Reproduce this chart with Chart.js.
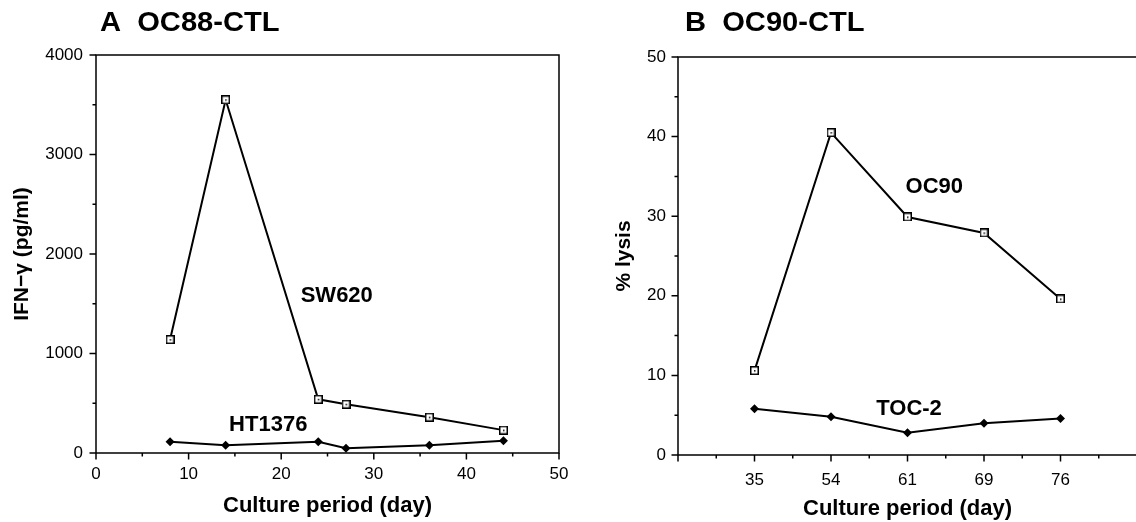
<!DOCTYPE html>
<html>
<head>
<meta charset="utf-8">
<script src="https://cdn.jsdelivr.net/npm/chart.js@4.4.1/dist/chart.umd.min.js"></script>
<style>
  html, body { margin: 0; padding: 0; background: #fff; overflow: hidden; }
  body { width: 1136px; height: 522px; position: relative; }
  #wrapA { position: absolute; left: 0; top: 0; width: 568px; height: 522px; }
  #wrapB { position: absolute; left: 568px; top: 0; width: 580px; height: 522px; }
</style>
</head>
<body>
<div id="wrapA"><canvas id="chartA"></canvas></div>
<div id="wrapB"><canvas id="chartB"></canvas></div>
<script>
// A - IFN-gamma released by OC88-CTL
const daysA = [8, 14, 24, 27, 36, 44]
const ifnSW620 = [1140, 3550, 540, 490, 360, 230]
const ifnHT1376 = [113, 77, 113, 47, 77, 123]
const tickLabelsAx = [0, 10, 20, 30, 40, 50]
const tickLabelsAy = [0, 1000, 2000, 3000, 4000]

// B - lysis by OC90-CTL
const daysB = ['35', '54', '61', '69', '76']
const lysisOC90 = [10.6, 40.5, 29.9, 27.9, 19.6]
const lysisTOC2 = [5.8, 4.8, 2.8, 4.0, 4.6]
const tickLabelsBy = [0, 10, 20, 30, 40, 50]

const FONT = "'Liberation Sans', Arial, Helvetica, sans-serif"
Chart.defaults.font.family = FONT
Chart.defaults.color = '#000'

// open square with a dot in the middle
function squareDot() {
  const c = document.createElement('canvas')
  c.width = 9
  c.height = 9
  const g = c.getContext('2d')
  g.fillStyle = '#fff'
  g.fillRect(0, 0, 9, 9)
  g.fillStyle = '#000'
  g.fillRect(0, 0, 9, 1.5)
  g.fillRect(0, 7.5, 9, 1.5)
  g.fillRect(0, 0, 1.5, 9)
  g.fillRect(7.5, 0, 1.5, 9)
  g.fillRect(4, 4, 1.5, 1.5)
  return c
}
const sq = squareDot()

// frame, tick marks, panel title and curve labels
const panelPlugin = {
  id: 'panel',
  afterDraw(chart, args, opts) {
    const ctx = chart.ctx
    const a = chart.chartArea
    const xs = chart.scales.x
    const ys = chart.scales.y
    ctx.save()
    ctx.strokeStyle = '#000'
    ctx.lineWidth = 1.5
    ctx.beginPath()
    ctx.moveTo(a.left, a.bottom)
    ctx.lineTo(a.left, a.top)
    ctx.lineTo(a.right, a.top)
    if (opts.openRight) ctx.moveTo(a.right, a.bottom)
    else ctx.lineTo(a.right, a.bottom)
    ctx.lineTo(a.left, a.bottom)
    ctx.stroke()

    const major = 6.5, minor = 3.5
    ctx.beginPath()
    xs.ticks.forEach((t, i) => {
      const px = xs.getPixelForValue(t.value)
      const isMajor = opts.categoryX || String(t.label).trim() !== ''
      const len = isMajor ? major : minor
      ctx.moveTo(px, a.bottom)
      ctx.lineTo(px, a.bottom + len)
      if (opts.categoryX && i < xs.ticks.length - 1) {
        const mid = (px + xs.getPixelForValue(xs.ticks[i + 1].value)) / 2
        ctx.moveTo(mid, a.bottom)
        ctx.lineTo(mid, a.bottom + minor)
      }
    })
    ys.ticks.forEach(t => {
      const py = ys.getPixelForValue(t.value)
      const len = String(t.label).trim() !== '' ? major : minor
      ctx.moveTo(a.left, py)
      ctx.lineTo(a.left - len, py)
    })
    ctx.stroke()

    ctx.fillStyle = '#000'
    ctx.textBaseline = 'middle'
    ctx.textAlign = 'left'
    ctx.font = 'bold 28px ' + FONT
    ctx.save()
    ctx.translate(a.left + opts.titleDx, 23)
    ctx.scale(1.04, 1)
    ctx.fillText(opts.title, 0, 0)
    ctx.restore()

    ctx.textAlign = 'center'
    ctx.font = 'bold 22px ' + FONT
    opts.labels.forEach(l => {
      ctx.fillText(l.text, xs.getPixelForValue(l.x), ys.getPixelForValue(l.y))
    })
    ctx.restore()
  }
}

function lineSet(label, data, style, radius) {
  return {
    label: label,
    data: data,
    borderColor: '#000',
    borderWidth: 2,
    backgroundColor: '#000',
    pointStyle: style,
    pointRadius: radius,
    pointBorderWidth: 0,
    pointBackgroundColor: '#000',
    tension: 0
  }
}

// fixed axis boxes so the plot areas land where the reference has them
function fixX(h) {
  return s => { s.height = h; s.paddingLeft = 0; s.paddingRight = 0 }
}
function fixY(w) {
  return s => { s.width = w; s.paddingTop = 0; s.paddingBottom = 0 }
}

const common = {
  responsive: true,
  maintainAspectRatio: false,
  animation: false,
  events: []
}

new Chart(document.getElementById('chartA'), {
  type: 'line',
  data: {
    datasets: [
      lineSet('HT1376', daysA.map((d, i) => ({x: d, y: ifnHT1376[i]})), 'rectRot', 4.5),
      lineSet('SW620', daysA.map((d, i) => ({x: d, y: ifnSW620[i]})), sq, 4.5)
    ]
  },
  options: {
    ...common,
    layout: { padding: { top: 55, left: 0, right: 9, bottom: 0 } },
    plugins: {
      legend: { display: false },
      tooltip: { enabled: false },
      panel: {
        title: 'A  OC88-CTL',
        titleDx: 4,
        labels: [
          { text: 'SW620', x: 26.0, y: 1580 },
          { text: 'HT1376', x: 18.6, y: 284 }
        ]
      }
    },
    scales: {
      x: {
        type: 'linear',
        min: 0,
        max: 50,
        afterFit: fixX(69),
        grid: { drawOnChartArea: false, drawTicks: false },
        border: { display: false },
        ticks: {
          stepSize: 5,
          autoSkip: false,
          maxRotation: 0,
          padding: 11,
          font: { size: 17 },
          callback: v => tickLabelsAx.includes(v) ? String(v) : ''
        },
        title: {
          display: true,
          text: 'Culture period (day)',
          font: { size: 22, weight: 'bold' },
          padding: { top: 0, bottom: 3 }
        }
      },
      y: {
        min: 0,
        max: 4000,
        afterFit: fixY(96),
        grid: { drawOnChartArea: false, drawTicks: false },
        border: { display: false },
        ticks: {
          stepSize: 500,
          autoSkip: false,
          padding: 13,
          font: { size: 17 },
          callback: v => tickLabelsAy.includes(v) ? String(v) : ''
        },
        title: {
          display: true,
          text: 'IFN\u2212\u03b3 (pg/ml)',
          font: { size: 21, weight: 'bold' },
          padding: { top: 10, bottom: 0 }
        }
      }
    }
  },
  plugins: [panelPlugin]
})

new Chart(document.getElementById('chartB'), {
  type: 'line',
  data: {
    labels: [' ', ...daysB, '  '],
    datasets: [
      lineSet('TOC-2', daysB.map((d, i) => ({x: d, y: lysisTOC2[i]})), 'rectRot', 4.5),
      lineSet('OC90', daysB.map((d, i) => ({x: d, y: lysisOC90[i]})), sq, 4.5)
    ]
  },
  options: {
    ...common,
    layout: { padding: { top: 57, left: 0, right: 11, bottom: 0 } },
    plugins: {
      legend: { display: false },
      tooltip: { enabled: false },
      panel: {
        title: 'B  OC90-CTL',
        titleDx: 7,
        categoryX: true,
        openRight: true,
        labels: [
          { text: 'OC90', x: 3.35, y: 33.7 },
          { text: 'TOC-2', x: 3.02, y: 5.8 }
        ]
      }
    },
    scales: {
      x: {
        type: 'category',
        offset: false,
        afterFit: fixX(67),
        grid: { drawOnChartArea: false, drawTicks: false, offset: false },
        border: { display: false },
        ticks: {
          autoSkip: false,
          maxRotation: 0,
          padding: 15,
          font: { size: 17 }
        },
        title: {
          display: true,
          text: 'Culture period (day)',
          font: { size: 22, weight: 'bold' },
          padding: { top: 0, bottom: 0 }
        }
      },
      y: {
        min: 0,
        max: 50,
        afterFit: fixY(110),
        grid: { drawOnChartArea: false, drawTicks: false },
        border: { display: false },
        ticks: {
          stepSize: 5,
          autoSkip: false,
          padding: 12,
          font: { size: 17 },
          callback: v => tickLabelsBy.includes(v) ? String(v) : ''
        },
        title: {
          display: true,
          text: '% lysis',
          font: { size: 21, weight: 'bold' },
          padding: { top: 44, bottom: 0 }
        }
      }
    }
  },
  plugins: [panelPlugin]
})
</script>
</body>
</html>
